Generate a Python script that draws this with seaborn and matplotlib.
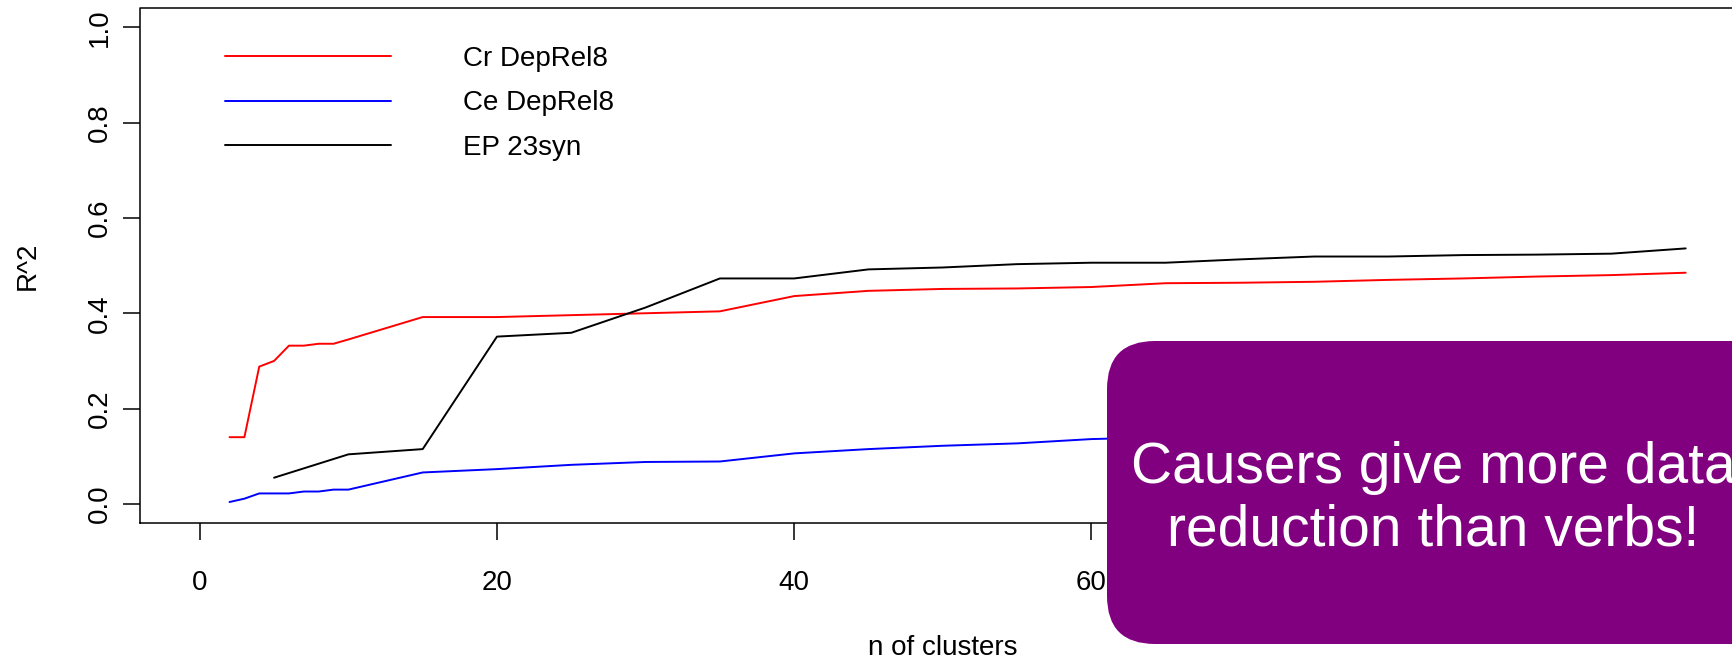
import numpy as np
import pandas as pd
import matplotlib
matplotlib.use("Agg")
import matplotlib.pyplot as plt
from matplotlib.patches import FancyBboxPatch
import seaborn as sns

# cluster counts on the x axis
n_clusters = [2, 3, 4, 5, 6, 7, 8, 9, 10, 15, 20, 25, 30, 35, 40, 45, 50,
              55, 60, 65, 70, 75, 80, 85, 90, 95, 100]
n_clusters_ep = [5, 10, 15, 20, 25, 30, 35, 40, 45, 50, 55, 60, 65, 70, 75,
                 80, 85, 90, 95, 100]

# R^2 per series
cr_deprel8 = [0.140, 0.140, 0.288, 0.300, 0.332, 0.332, 0.336, 0.336, 0.345,
              0.392, 0.392, 0.396, 0.400, 0.404, 0.436, 0.447, 0.451, 0.452,
              0.455, 0.463, 0.464, 0.466, 0.470, 0.473, 0.477, 0.480, 0.485]
ce_deprel8 = [0.004, 0.011, 0.022, 0.022, 0.022, 0.026, 0.026, 0.030, 0.030,
              0.066, 0.073, 0.082, 0.088, 0.089, 0.106, 0.115, 0.122, 0.127,
              0.136, 0.140, 0.144, 0.148, 0.151, 0.154, 0.157, 0.160, 0.163]
ep_23syn = [0.055, 0.104, 0.115, 0.351, 0.359, 0.412, 0.473, 0.473, 0.492,
            0.496, 0.503, 0.506, 0.506, 0.513, 0.519, 0.519, 0.522, 0.523,
            0.525, 0.536]

series_labels = ["Cr DepRel8", "Ce DepRel8", "EP 23syn"]
series_colors = ["#FF0000", "#0000FF", "#000000"]
x_ticks = [0, 20, 40, 60, 80, 100]
y_ticks = [0.0, 0.2, 0.4, 0.6, 0.8, 1.0]
callout = "Causers give more data\nreduction than verbs!"

sns.set_theme(style="ticks")
plt.rcParams['font.family'] = ['Liberation Sans', 'DejaVu Sans']
plt.rcParams.update({"text.color": "black", "axes.labelcolor": "black",
                     "xtick.color": "black", "ytick.color": "black"})

fig = plt.figure(figsize=(17.33, 6.59), dpi=100)
ax = fig.add_axes([0.081, 0.2064, 0.926, 0.7812])

frames = [
    pd.DataFrame({"x": n_clusters, "r2": cr_deprel8}),
    pd.DataFrame({"x": n_clusters, "r2": ce_deprel8}),
    pd.DataFrame({"x": n_clusters_ep, "r2": ep_23syn}),
]
for df, label, color in zip(frames, series_labels, series_colors):
    sns.lineplot(data=df, x="x", y="r2", ax=ax, color=color, linewidth=1.4,
                 label=label)

ax.set_xlim(-4, 104)
ax.set_ylim(-0.04, 1.04)
ax.set_xticks(x_ticks)
ax.set_xticklabels([str(t) for t in x_ticks])
ax.set_yticks(y_ticks)
ax.set_yticklabels([f"{t:.1f}" for t in y_ticks], rotation=90, va="center")
ax.tick_params(axis="both", direction="out", length=12, width=1.1,
               labelsize=20, color="black", labelcolor="black")
ax.tick_params(axis="x", pad=22)
ax.tick_params(axis="y", pad=8)

# R style box around the plot region
for s in ax.spines.values():
    s.set_visible(False)
ax.plot([0, 1, 1, 0, 0], [0, 0, 1, 1, 0], transform=ax.transAxes,
        color="black", lw=1.1, clip_on=False)

ax.set_xlabel("n of clusters", fontsize=20, va="baseline", color="black")
ax.xaxis.set_label_coords(0.5, -0.2564)
ax.set_ylabel("R^2", fontsize=20, va="center", color="black")
ax.yaxis.set_label_coords(-0.070, 0.5)

leg = ax.legend(loc="upper left", bbox_to_anchor=(0.0455, 0.948),
                frameon=False, fontsize=20, handlelength=5.99,
                handletextpad=2.61, labelspacing=0.66, borderaxespad=0)
for t in leg.get_texts():
    t.set_color("black")

box = FancyBboxPatch((11.07, 0.15), 7.0, 3.03,
                     boxstyle="round,pad=0,rounding_size=0.48",
                     transform=fig.dpi_scale_trans, facecolor="#800080",
                     edgecolor="none", zorder=10)
fig.patches.append(box)
fig.text(0.827, 0.243, callout, color="white", fontsize=41,
         ha="center", va="center", linespacing=1.2, zorder=11)

fig.savefig("out.png", dpi=100)
